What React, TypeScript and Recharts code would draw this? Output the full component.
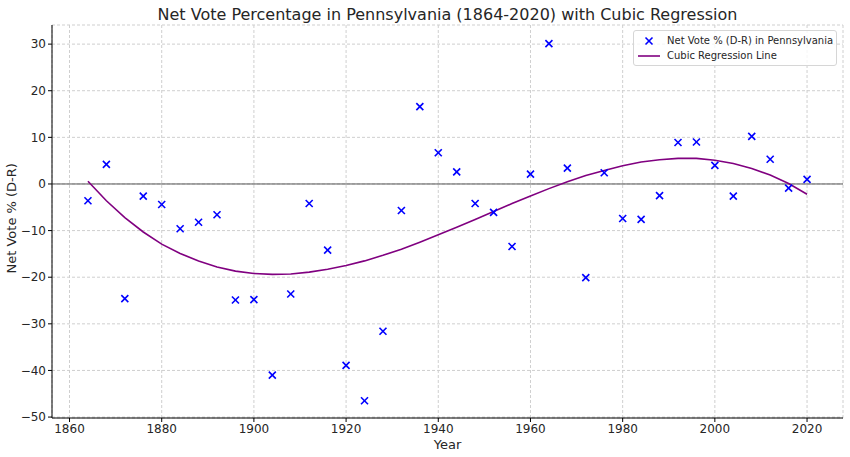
import React from 'react';
import {
  CartesianGrid,
  ComposedChart,
  Line,
  ReferenceLine,
  Scatter,
  XAxis,
  YAxis,
} from 'recharts';

const years = [
  1864, 1868, 1872, 1876, 1880, 1884, 1888, 1892, 1896, 1900, 1904, 1908, 1912, 1916, 1920, 1924, 1928, 1932, 1936,
  1940, 1944, 1948, 1952, 1956, 1960, 1964, 1968, 1972, 1976, 1980, 1984, 1988, 1992, 1996, 2000, 2004, 2008, 2012,
  2016, 2020,
];

const netVote = [
  -3.6, 4.2, -24.6, -2.6, -4.4, -9.6, -8.2, -6.6, -24.9, -24.8, -41.0, -23.6, -4.2, -14.2, -38.9, -46.5, -31.6, -5.7,
  16.6, 6.7, 2.6, -4.2, -6.1, -13.4, 2.1, 30.1, 3.4, -20.1, 2.4, -7.4, -7.6, -2.5, 8.9, 9.0, 4.0, -2.6, 10.2, 5.3,
  -0.9, 1.0,
];

const cubicFit = [
  0.6, -3.6, -7.2, -10.3, -12.9, -14.9, -16.5, -17.8, -18.7, -19.2, -19.4, -19.3, -18.9, -18.3, -17.5, -16.5, -15.3,
  -14.0, -12.5, -10.9, -9.3, -7.6, -5.9, -4.2, -2.6, -1.0, 0.5, 1.8, 2.9, 3.9, 4.7, 5.2, 5.5, 5.5, 5.1, 4.4, 3.3, 1.9,
  0.1, -2.2,
];

const xTicks = [1860, 1880, 1900, 1920, 1940, 1960, 1980, 2000, 2020];
const yTicks = [-50, -40, -30, -20, -10, 0, 10, 20, 30];

const data = years.map((year, i) => ({ year, net: netVote[i], fit: cubicFit[i] }));

const FONT = '"DejaVu Sans", sans-serif';
const TEXT = '#262626';

const fmt = (v: number) => String(v).replace('-', '\u2212');

const XMark = (props: any) => {
  const { cx, cy } = props;
  if (cx == null || cy == null) return null;
  const r = 3.5;
  return (
    <g stroke="#0000ff" strokeWidth={1.6}>
      <line x1={cx - r} y1={cy - r} x2={cx + r} y2={cy + r} />
      <line x1={cx - r} y1={cy + r} x2={cx + r} y2={cy - r} />
    </g>
  );
};

const LegendBox = () => (
  <div
    style={{
      position: 'absolute',
      left: 633,
      top: 30,
      width: 204,
      boxSizing: 'border-box',
      border: '1px solid #d6d6d6',
      borderRadius: 3,
      background: 'rgba(255,255,255,0.8)',
      padding: '2px 0 2px 3px',
      fontFamily: FONT,
      fontSize: 10,
      color: TEXT,
      lineHeight: '15px',
      whiteSpace: 'nowrap',
    }}
  >
    <div style={{ display: 'flex', alignItems: 'center' }}>
      <svg width={24} height={12}>
        <XMark cx={12} cy={6} />
      </svg>
      <span style={{ marginLeft: 6 }}>Net Vote % (D-R) in Pennsylvania</span>
    </div>
    <div style={{ display: 'flex', alignItems: 'center' }}>
      <svg width={24} height={12}>
        <line x1={1} y1={6} x2={23} y2={6} stroke="#800080" strokeWidth={1.6} />
      </svg>
      <span style={{ marginLeft: 6 }}>Cubic Regression Line</span>
    </div>
  </div>
);

export default function App() {
  return (
    <div style={{ position: 'absolute', left: 0, top: 0, width: 850, height: 457, background: '#fff' }}>
      <div
        style={{
          position: 'absolute',
          left: 52,
          width: 791,
          top: 5,
          textAlign: 'center',
          fontFamily: FONT,
          fontSize: 16,
          color: TEXT,
        }}
      >
        Net Vote Percentage in Pennsylvania (1864-2020) with Cubic Regression
      </div>
      <ComposedChart width={850} height={457} data={data} margin={{ top: 25, right: 7, bottom: 0, left: 0 }}>
        <CartesianGrid stroke="#cfcfcf" strokeDasharray="3 2" horizontal vertical />
        <XAxis
          dataKey="year"
          type="number"
          domain={[1856.2, 2027.8]}
          ticks={xTicks}
          allowDataOverflow
          height={39}
          stroke="#000"
          tickSize={4}
          tick={{ fill: TEXT, fontSize: 12, fontFamily: FONT }}
          label={{ value: 'Year', position: 'insideBottom', offset: 8, fill: TEXT, fontSize: 13, fontFamily: FONT }}
        />
        <YAxis
          type="number"
          domain={[-50.2, 34.1]}
          ticks={yTicks}
          allowDataOverflow
          width={52}
          stroke="#000"
          tickSize={4}
          tickFormatter={fmt}
          tick={{ fill: TEXT, fontSize: 12, fontFamily: FONT }}
          label={{
            value: 'Net Vote % (D-R)',
            angle: -90,
            position: 'insideLeft',
            dx: 6,
            dy: 52,
            fill: TEXT,
            fontSize: 13,
            fontFamily: FONT,
          }}
        />
        <ReferenceLine y={0} stroke="#555" strokeWidth={1} />
        <Line
          dataKey="fit"
          stroke="#800080"
          strokeWidth={1.6}
          dot={false}
          type="linear"
          isAnimationActive={false}
        />
        <Scatter dataKey="net" fill="#0000ff" shape={<XMark />} isAnimationActive={false} />
      </ComposedChart>
      <LegendBox />
    </div>
  );
}
